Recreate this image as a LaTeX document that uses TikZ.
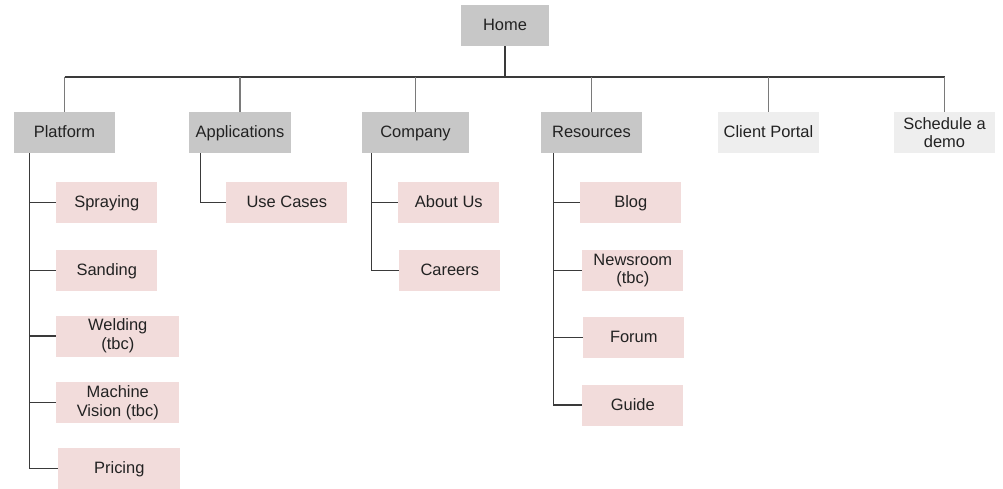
\documentclass[tikz,border=0pt]{standalone}
\usepackage{fontspec}
\setmainfont{Liberation Sans}
\usepackage{tikz}
\usetikzlibrary{positioning, calc}
\definecolor{boxgrey}{HTML}{C7C7C7}
\definecolor{boxlight}{HTML}{EEEEEE}
\definecolor{boxpink}{HTML}{F2DCDB}
\definecolor{linedark}{HTML}{3A3A3A}
\definecolor{linegrey}{HTML}{7A7A7A}
\definecolor{textdark}{HTML}{222222}
\tikzstyle{mainpage} = [rectangle, minimum width=2.525cm, minimum height=1.025cm, inner sep=0pt, align=center, fill=boxgrey, text=textdark, font=\fontsize{11.7pt}{13.3pt}\selectfont, text height=0.716em, text depth=0pt]
\tikzstyle{sidepage} = [mainpage, fill=boxlight]
\tikzstyle{subpage} = [mainpage, fill=boxpink, anchor=west]
\tikzstyle{twolines} = [text height={}, text depth={}]
\tikzstyle{branch} = [line width=1pt, draw=linedark]
\tikzstyle{drop} = [line width=1pt, draw=linegrey]

\begin{document}
\begin{tikzpicture}[x=0.025cm, y=-0.025cm]
\useasboundingbox (0,0) rectangle (1003,488);
% top levels
\node (home) [mainpage, minimum width=2.2cm] at (505,25.5) {Home};
\node (platform) [mainpage] at (64.5,132.5) {Platform};
\node (applications) [mainpage, minimum width=2.55cm] at (240,132.5) {Applications};
\node (company) [mainpage, minimum width=2.675cm] at (415.5,132.5) {Company};
\node (resources) [mainpage] at (591.5,132.5) {Resources};
\node (portal) [sidepage] at (768.5,132.5) {Client Portal};
\node (demo) [sidepage, twolines] at (944.5,132.5) {Schedule a\\demo};
% pages under platform
\node (spraying) [subpage] at (56,202.5) {Spraying};
\node (sanding) [subpage] at (56,270.5) {Sanding};
\node (welding) [subpage, twolines, minimum width=3.075cm] at (56,336) {Welding\\(tbc)};
\node (vision) [subpage, twolines, minimum width=3.075cm] at (56,402.5) {Machine\\Vision (tbc)};
\node (pricing) [subpage, minimum width=3.05cm] at (58,468.5) {Pricing};
% pages under the others
\node (usecases) [subpage, minimum width=3.025cm] at (226,202.5) {Use Cases};
\node (about) [subpage] at (398,202.5) {About Us};
\node (careers) [subpage] at (399,270.5) {Careers};
\node (blog) [subpage] at (580,202.5) {Blog};
\node (newsroom) [subpage, twolines] at (582,270.5) {Newsroom\\(tbc)};
\node (forum) [subpage] at (583,337.5) {Forum};
\node (guide) [subpage] at (582,405) {Guide};

\coordinate (bus) at (505,77);
\draw [branch] (home) -- (bus);
\draw [branch] (platform |- bus) -- (demo |- bus);
\foreach \n in {platform, applications, company, resources, portal, demo}
  \draw [drop] (\n |- bus) -- (\n.north);

\coordinate (platspine) at ($(platform.south west)+(16,0)$);
\coordinate (appspine) at ($(applications.south west)+(12,0)$);
\coordinate (compspine) at ($(company.south west)+(10,0)$);
\coordinate (resspine) at ($(resources.south west)+(13,0)$);
\foreach \n in {spraying, sanding, welding, vision, pricing}
  \draw [branch] (platspine) |- (\n.west);
\draw [branch] (appspine) |- (usecases.west);
\foreach \n in {about, careers}
  \draw [branch] (compspine) |- (\n.west);
\foreach \n in {blog, newsroom, forum, guide}
  \draw [branch] (resspine) |- (\n.west);
\end{tikzpicture}
\end{document}
